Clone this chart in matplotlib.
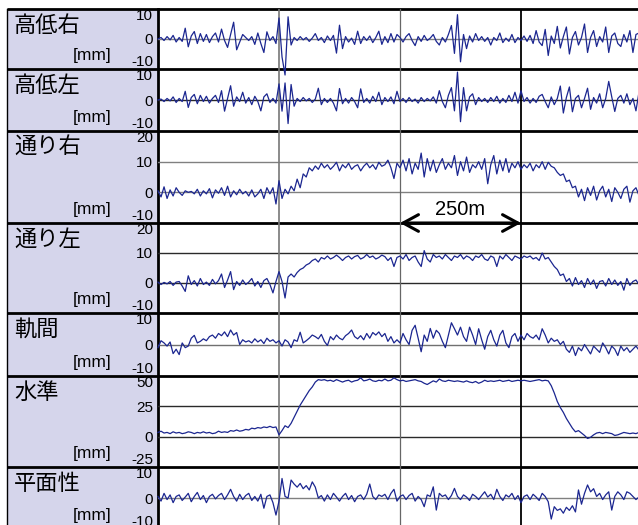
import numpy as np
import matplotlib
matplotlib.use("Agg")
import matplotlib.pyplot as plt
import matplotlib.transforms as mtransforms
from matplotlib.patches import Rectangle

# ---- data (mm), one sample every 6.25 m along the track ----
STEP = 6.25

names = ['高低右', '高低左', '通り右', '通り左', '軌間', '水準', '平面性']
ylims = [(-10, 10), (-10, 10), (-10, 20), (-10, 20), (-10, 10), (-25, 50), (-10, 10)]
yticks = [[10, 0, -10], [10, 0, -10], [20, 10, 0, -10], [20, 10, 0, -10],
          [10, 0, -10], [50, 25, 0, -25], [10, 0, -10]]
gridvals = [[0], [0], [10, 0], [10, 0], [0], [25, 0], [0]]

takasa_r = [
    0, 0.5, -0.5, 0.8, -0.3, 1.2, -1.0, 0.5, -0.8, 3.6, -2.6, 1.0, 2.5, -1.5, 1.8, -0.8, 1.5, -1.2, 0.8, 2.0,
    -1.0, 3.3, -0.5, -2.8, 1.5, 5.6, -3.6, -1.0, 1.5, 0.5, -0.5, 0.8, -1.8, 2.0, -1.5, -4.5, 2.4, -0.5, 0.8, -1.5,
    7.0, -6.0, -12.0, 7.4, -2.0, 0.5, -0.5, 0.8, -0.3, 0.5, -0.8, 0.3, 1.8, -0.5, 0.5, -1.2, 1.0, -0.5, 1.2, -4.7,
    4.6, -3.2, 0.8, -1.0, 0.3, -1.8, 2.6, -1.5, 0.8, -0.5, 1.0, -1.2, 0.5, 2.6, -1.8, 0.8, -1.2, 1.8, -1.0, 1.5,
    0.5, -1.0, 0.8, 1.8, -0.5, -2.2, 0.8, -0.8, 1.2, -0.5, 0.3, 1.5, -0.8, -2.0, 0.5, -1.0, 1.5, 4.5, -4.8, 8.1,
    -7.6, 1.5, -3.2, 1.0, -1.0, 1.8, -0.5, 0.8, -0.8, 0.5, -2.0, 0.5, -0.5, 2.0, -1.2, 0.3, -0.8, 1.5, -1.2, 0.5,
    -0.5, 1.0, -0.8, 1.2, -1.5, 2.8, -1.0, -2.2, 3.2, -5.5, 1.0, -1.5, 4.2, -3.0, 0.8, 4.0, -5.0, 0.5, 2.5, -2.0,
    0.5, 5.0, -4.5, 0.5, 2.8, -2.5, 0.8, -1.0, 4.0, -4.5, 1.0, 2.0, -1.5, -2.5, 1.5, -1.0, 2.8, -4.5, 1.5, 2.0,
]

takasa_l = [
    0, 0.3, -0.5, 0.5, -0.3, 1.0, -0.8, 0.5, -0.5, 2.8, -2.4, 0.8, 1.8, -1.2, 1.5, -0.5, 1.2, -1.0, 0.5, 1.5,
    -0.8, 3.0, -3.6, 0.5, 4.6, -2.0, 1.0, -0.5, 2.5, -1.0, 0.8, -1.5, 1.2, -0.5, -3.5, 1.0, 2.0, -0.8, 0.5, -1.0,
    5.2, -3.6, 5.5, -7.6, 5.0, -2.0, 0.5, -0.5, 0.8, -0.3, 0.5, -0.8, 0.3, 3.8, -1.5, 0.5, -0.8, 0.5, -1.0, -3.5,
    3.7, -1.2, 0.5, -1.0, 0.8, -0.5, -2.5, 3.6, -0.8, 0.5, -1.0, 1.2, -0.5, 2.5, -1.5, 0.8, -0.5, 1.0, -1.2, 2.8,
    -0.5, 0.5, -0.8, 0.8, -0.5, 0.3, -1.0, 0.8, -0.5, 0.5, -0.3, 1.0, -1.0, 3.0, -0.5, -2.5, 1.5, 4.0, -3.5, 9.0,
    -7.0, 4.0, -3.5, 1.0, 2.0, -1.5, 0.8, -0.5, 0.5, -0.8, 0.8, -0.5, 1.2, -1.0, 0.5, -0.8, 1.5, -0.5, 2.5, -1.0,
    3.0, -0.5, 0.8, -1.0, 0.5, -0.8, 1.2, 1.8, -0.5, -2.5, 1.0, -1.5, 0.5, 4.5, -4.2, 0.8, 4.2, -3.8, 0.5, 1.5,
    -2.5, 0.5, 3.8, -3.0, 0.8, -1.0, 2.0, -2.5, 0.5, 6.0, 1.0, -3.7, 0.5, 1.5, -1.0, 2.0, -1.5, 0.5, -3.5, 2.5,
]

toori_r = [
    0.5, -1.5, 1.8, -2.0, 0.8, -1.2, 1.5, 0.0, -1.0, 0.5, 0.0, 0.3, -0.5, 1.0, -1.2, 0.5, -0.5, 1.2, -1.8, 0.8,
    -0.3, 1.5, -1.0, 2.0, -1.5, 0.5, -0.8, 1.0, -0.5, 0.3, -1.2, 0.8, -1.5, -0.5, 1.0, -2.0, 1.5, -0.5, 1.5, -3.8,
    3.8, -2.0, 1.0, -0.5, 2.0, 0.5, 4.3, 1.5, 6.0, 5.0, 8.0, 7.0, 8.6, 7.5, 9.5, 8.0, 9.0, 7.5, 8.5, 9.8,
    7.0, 9.0, 8.0, 9.5, 7.5, 8.5, 9.0, 7.0, 8.5, 9.5, 8.0, 9.0, 7.5, 9.8, 8.5, 9.0, 10.5, 8.0, 4.5, 9.5,
    8.0, 10.5, 7.0, 11.0, 6.0, 9.5, 7.5, 12.8, 5.0, 11.0, 7.0, 10.5, 6.5, 9.0, 11.0, 7.5, 9.5, 8.0, 12.0, 5.5,
    10.0, 7.0, 11.5, 6.5, 9.0, 8.0, 10.0, 7.5, 11.0, 2.8, 9.0, 12.0, 6.0, 10.5, 7.0, 11.0, 6.5, 9.5, 8.0, 10.0,
    7.5, 9.0, 8.0, 9.5, 7.0, 9.0, 8.0, 10.0, 7.5, 9.8, 8.5, 8.0, 6.5, 5.5, 6.0, 3.5, 4.0, 1.5, 2.0, -1.5,
    1.0, -2.7, 1.5, -1.0, 2.0, -2.5, 0.5, 2.0, -1.5, 1.0, -3.0, 1.5, 0.0, -2.0, 1.0, 2.0, -3.2, 0.5, 1.5, -1.0,
]

toori_l = [
    0.3, -0.5, 0.2, -0.3, 0.5, -0.8, 0.3, 0.5, -1.0, -2.8, 2.4, -0.5, 0.8, -1.0, 1.5, -0.5, 0.3, -0.8, 1.2, -0.3,
    0.8, 3.0, -1.5, 1.0, 3.8, -2.2, 0.5, -0.8, 1.0, -0.5, 0.3, 1.5, -1.0, 0.5, -1.5, 0.8, 1.5, -0.5, -3.3, 0.5,
    3.8, 0.5, -5.0, 2.0, 3.0, 2.0, 3.5, 4.5, 5.0, 6.0, 6.5, 7.5, 8.0, 7.0, 8.5, 8.0, 9.0, 8.0, 8.5, 9.3,
    8.5, 7.5, 8.5, 9.0, 8.0, 8.8, 9.2, 8.0, 8.5, 9.5, 8.5, 9.0, 8.0, 8.5, 9.3, 8.8, 7.5, 8.5, 5.5, 8.5,
    9.0, 8.0, 9.5, 7.5, 8.5, 9.0, 7.0, 5.5, 10.8, 8.0, 7.0, 9.5, 8.5, 9.0, 8.0, 9.5, 8.5, 7.5, 9.0, 8.5,
    9.5, 8.0, 9.0, 8.5, 7.5, 9.0, 8.5, 9.5, 8.0, 7.5, 9.0, 8.5, 5.5, 9.0, 8.0, 9.5, 8.5, 7.5, 9.0, 8.5,
    8.0, 9.0, 8.5, 9.0, 8.0, 8.5, 7.5, 10.0, 8.0, 8.5, 7.0, 5.5, 4.5, 2.5, 3.0, 0.5, 1.5, -1.0, 1.8, -0.5,
    0.8, -1.5, 1.5, -0.5, 1.0, -1.8, 0.5, 0.8, -1.0, 1.5, -0.5, 1.0, -0.8, 0.5, -2.4, 1.5, -0.8, 0.5, 1.0, -0.5,
]

kikan = [
    -1.0, 1.2, 0.5, -0.5, 0.8, -2.9, -1.5, -3.2, 0.5, -1.0, -0.5, 2.0, 2.9, 0.5, 1.0, 1.8, 1.2, 2.5, 3.0, 2.0,
    3.5, 2.8, 4.0, 2.5, 4.6, 3.0, 3.8, 0.0, 1.5, 0.8, 1.2, 0.5, 1.8, 0.8, 1.5, 0.3, 2.0, 1.0, 1.5, 0.5,
    1.2, -0.5, 1.5, 0.8, -1.0, 1.5, 1.0, 3.9, 0.5, 1.2, 2.0, 3.0, 2.5, 1.8, 3.2, 1.0, -0.3, 2.5, 1.5, 3.0,
    2.0, 1.5, 2.8, 3.5, 4.6, 2.5, 1.8, 2.8, 1.5, 3.5, 2.0, 3.8, 3.0, 4.0, 2.5, 3.5, 1.0, 2.5, 0.5, 1.5,
    0.5, 3.5, 1.5, 0.0, 4.5, 6.1, 2.0, -2.3, 3.0, 1.0, 5.1, 2.0, 4.5, 3.5, 1.0, -1.0, 3.0, 6.9, 5.0, 3.0,
    5.5, 2.5, 1.0, 5.5, 3.0, 0.0, 5.0, 1.5, -1.5, 2.5, 4.5, 1.5, -0.5, 3.0, 4.5, 0.5, -1.0, 2.5, 3.5, 1.0,
    3.0, 1.5, 3.5, 2.5, 2.0, 3.0, 1.5, 5.0, 3.0, 0.5, 2.0, 1.0, 1.5, 0.0, 1.0, -1.5, -2.5, -0.5, -3.5, -1.0,
    -2.0, 0.0, -1.5, -3.0, -0.5, -1.5, -2.5, 0.5, -1.0, -3.0, -0.5, -1.5, -3.5, -0.5, -2.0, -1.0, -2.5, -1.5, -0.5, -1.8,
]

suijun = [
    3.5, 4.5, 3.0, 3.5, 2.5, 4.0, 3.0, 3.5, 2.5, 3.0, 4.0, 3.5, 2.5, 3.5, 3.0, 4.0, 3.0, 3.5, 2.5, 3.0,
    4.5, 3.5, 4.0, 3.5, 5.0, 4.5, 5.5, 4.5, 5.0, 6.0, 5.5, 7.0, 6.5, 7.5, 7.0, 8.0, 7.5, 8.5, 7.5, 8.0,
    1.5, 5.0, 9.0, 7.5, 11.0, 16.0, 21.0, 26.0, 30.0, 34.0, 38.0, 41.0, 45.0, 47.0, 46.5, 47.0, 46.0, 46.5, 45.5, 47.0,
    46.0, 45.0, 46.0, 46.5, 45.0, 46.0, 46.5, 48.5, 46.0, 46.5, 47.5, 46.0, 45.5, 46.5, 46.0, 47.5, 46.0, 46.5, 48.5, 47.0,
    46.0, 46.5, 45.5, 46.0, 46.5, 47.0, 46.0, 45.5, 44.0, 43.0, 44.5, 46.0, 45.0, 47.5, 46.0, 45.5, 46.5, 46.0, 45.5, 46.0,
    45.5, 45.0, 46.0, 45.0, 44.5, 45.5, 44.0, 45.0, 46.5, 45.5, 46.0, 45.5, 46.0, 46.5, 45.5, 46.0, 46.5, 45.5, 46.0, 46.5,
    46.0, 46.5, 46.0, 45.5, 46.0, 46.5, 47.0, 46.0, 46.5, 46.0, 42.0, 36.0, 29.0, 24.0, 20.0, 15.0, 11.0, 7.0, 4.0, 5.0,
    3.0, 1.0, -1.5, -0.5, 1.5, 3.0, 3.5, 2.5, 3.5, 3.0, 2.5, 1.0, 1.5, 2.5, 3.5, 3.0, 2.5, 3.0, 2.5, 3.5,
]

heimen = [
    0.5, -1.0, 1.5, -0.5, 1.0, -1.5, 0.5, 1.0, -0.8, 0.3, 1.5, -1.2, 0.5, 1.8, -0.5, 0.8, -1.5, 0.5, 1.2, -0.3,
    0.8, 1.5, -0.5, 1.0, 2.8, 0.5, -1.0, 1.2, -0.5, 0.8, 1.5, -0.8, 0.5, -1.0, 1.2, -3.3, 0.5, 1.0, -1.5, -5.5,
    -1.0, 6.3, 0.5, 0.0, 5.8, 4.5, 3.5, 4.7, 3.0, 4.0, 2.6, 5.2, 3.5, 0.0, 0.8, -1.0, 1.0, -0.5, 1.5, 0.3,
    -1.0, 0.5, 1.5, -0.5, 0.8, -1.2, 0.5, 1.0, -0.5, 1.2, 4.5, 0.5, -0.5, 1.0, 0.5, 1.2, -0.5, 1.5, 2.8, -1.0,
    0.5, 1.0, -0.5, 0.8, 1.5, -1.0, 0.5, -0.5, -2.8, 1.0, 0.5, 3.6, -3.9, 1.5, 0.5, 1.0, -0.5, 0.8, 3.1, 0.5,
    -0.5, 1.0, 0.3, -0.8, 1.2, 0.5, -0.5, 0.8, 2.0, 0.3, 1.2, -0.5, 2.8, 0.5, -0.8, 1.0, 0.3, 1.5, -0.5, 0.8,
    -1.5, 0.5, 1.0, -0.5, 1.2, 0.3, -0.8, 1.5, 0.5, -1.2, -6.8, -2.8, -4.0, -3.5, -4.9, -3.0, -4.0, -2.5, -4.5, 2.6,
    -2.0, 1.5, 4.2, 2.0, 3.0, 0.5, 1.5, -0.5, 1.0, 2.0, -3.9, 0.5, 2.0, 1.0, -0.5, 2.0, 1.5, 0.5, -0.5, 0.3,
]

series = [takasa_r, takasa_l, toori_r, toori_l, kikan, suijun, heimen]

# ---- layout (pixels) ----
W, H = 638, 525
panel_edges = [9, 69, 131, 223, 313, 376, 467, 529]
plot_left, plot_right = 158, 642
label_left = 7
line_color = '#1b2690'
label_bg = '#d5d5eb'
grid_colors = ['#808080', '#2a2a2a', '#808080', '#2a2a2a', '#707070', '#2a2a2a', '#808080']

fig = plt.figure(figsize=(W / 100, H / 100), dpi=100)

bg = fig.add_axes([0, 0, 1, 1])
bg.set_xlim(0, W)
bg.set_ylim(H, 0)
bg.axis('off')
bg.add_patch(Rectangle((label_left, panel_edges[0]), plot_left - label_left, H,
                       facecolor=label_bg, edgecolor='none'))
bg.plot([label_left, label_left], [panel_edges[0], H], color='black', lw=1.0)
bg.plot([plot_left, plot_left], [panel_edges[0], H], color='black', lw=2.0)
for y in panel_edges[:-1]:
    bg.plot([label_left, W], [y, y], color='black', lw=2.0, solid_capstyle='butt')

jp = ['Noto Sans CJK JP', 'DejaVu Sans']
num = ['Liberation Sans', 'DejaVu Sans']

axes = []
for k in range(7):
    top, bot = panel_edges[k], panel_edges[k + 1]
    ax = fig.add_axes([plot_left / W, 1 - bot / H, (plot_right - plot_left) / W, (bot - top) / H])
    ax.set_zorder(2)
    ax.patch.set_alpha(0)
    ax.axis('off')
    ax.set_xlim(0, 1000)
    ax.set_ylim(*ylims[k])
    for g in gridvals[k]:
        ax.axhline(g, color=grid_colors[k], lw=1.0, zorder=1)
    ax.axvline(250, color='#777777', lw=1.2, zorder=1)
    ax.axvline(500, color='#666666', lw=0.9, zorder=1)
    ax.axvline(750, color='black', lw=1.3, zorder=1)
    vals = np.array(series[k])
    x = np.arange(len(vals)) * STEP
    ax.plot(x, vals, color=line_color, lw=0.9, zorder=3, clip_on=False)

    # labels in the left column
    bg.text(14, top + 16.5, names[k], family=jp, fontsize=16, ha='left', va='center')
    bg.text(112, bot - 13.5, '[mm]', family=num, fontsize=12.5, ha='right', va='center')
    tr = mtransforms.blended_transform_factory(bg.transData, ax.transData)
    lo, hi = ylims[k]
    for t in yticks[k]:
        va = 'top' if t == hi else ('bottom' if t == lo else 'center_baseline')
        bg.text(153, t, str(t), transform=tr, family=num, fontsize=11, ha='right', va=va)
    axes.append(ax)

# 250 m marker on the boundary between 通り右 and 通り左
ax4 = axes[3]
ax4.annotate('', xy=(500, 20), xytext=(750, 20), xycoords='data',
             arrowprops=dict(arrowstyle='<->,head_length=0.55,head_width=0.3',
                             color='black', lw=2.2, mutation_scale=20,
                             shrinkA=0, shrinkB=0), annotation_clip=False)
ax4.text(625, 24.5, '250m', family=num, fontsize=14.5, ha='center', va='center',
         clip_on=False)

fig.savefig('out.png', dpi=100)
